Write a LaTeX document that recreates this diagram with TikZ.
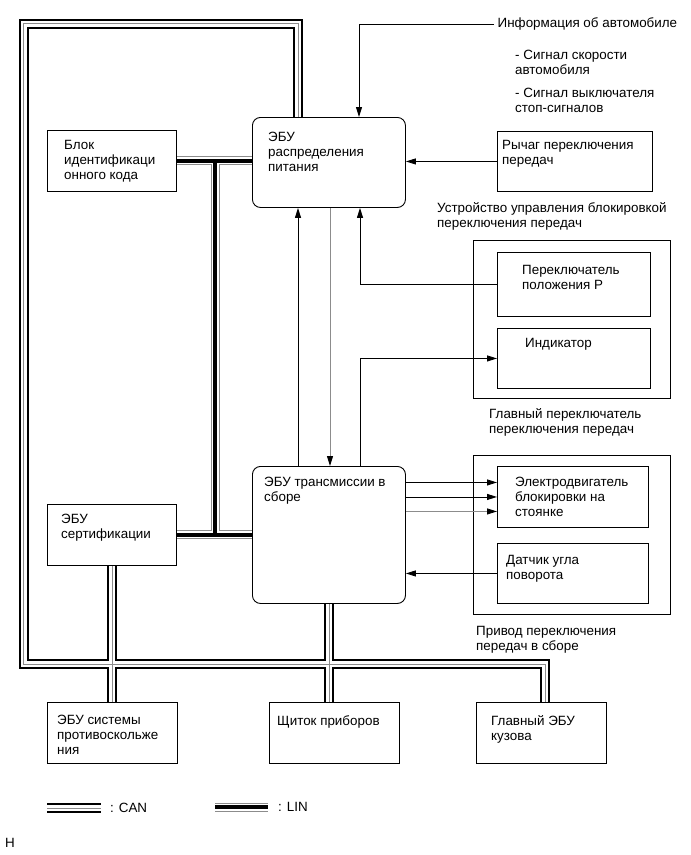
\documentclass[tikz,border=0pt]{standalone}
\usepackage{fontspec}
\setmainfont{Liberation Sans}
\usetikzlibrary{positioning,arrows.meta,backgrounds}

\begin{document}
\begin{tikzpicture}[
  x=1pt, y=-1pt,
  font=\fontsize{13.4}{15.2}\selectfont,
  every node/.style={inner sep=0pt},
  blk/.style={draw, line width=0.9pt, fill=white, anchor=north west},
  ecu/.style={blk, rounded corners=8pt},
  lbl/.style={align=left, anchor=north west},
  txt/.style={align=left, anchor=north west},
  arr/.style={line width=0.9pt, -{Triangle[length=10pt,width=6pt]}},
  garr/.style={arr, black!45, -{Triangle[length=10pt,width=6pt,color=black]}}
]
\useasboundingbox (0,0) rectangle (691,855);

% units
\node[blk, minimum width=129, minimum height=61,
  label={[lbl,xshift=17,yshift=-10]north west:Блок\\идентификаци\\онного кода}] (ident) at (47,130) {};
\node[ecu, minimum width=153, minimum height=90,
  label={[lbl,xshift=16,yshift=-15]north west:ЭБУ\\распределения\\питания}] (pdu) at (252,117) {};
\node[blk, minimum width=155, minimum height=60,
  label={[lbl,xshift=5,yshift=-9]north west:Рычаг переключения\\передач}] (lever) at (497,131) {};

\node[blk, minimum width=197, minimum height=158] (mainsw) at (473,240) {};
\node[blk, minimum width=153, minimum height=64,
  label={[lbl,xshift=25,yshift=-13]north west:Переключатель\\положения P}] (pswitch) at (497,252) {};
\node[blk, minimum width=153, minimum height=60,
  label={[lbl,xshift=28,yshift=-10]north west:Индикатор}] (indic) at (497,328) {};

\node[ecu, minimum width=153, minimum height=137,
  label={[lbl,xshift=12,yshift=-11]north west:ЭБУ трансмиссии в\\сборе}] (trans) at (252,466) {};
\node[blk, minimum width=129, minimum height=61,
  label={[lbl,xshift=14,yshift=-10]north west:ЭБУ\\сертификации}] (cert) at (47,504) {};

\node[blk, minimum width=197, minimum height=159] (act) at (473,455) {};
\node[blk, minimum width=151, minimum height=61,
  label={[lbl,xshift=18,yshift=-11]north west:Электродвигатель\\блокировки на\\стоянке}] (motor) at (497,466) {};
\node[blk, minimum width=151, minimum height=60,
  label={[lbl,xshift=9,yshift=-12]north west:Датчик угла\\поворота}] (sensor) at (497,543) {};

\node[blk, minimum width=130, minimum height=61,
  label={[lbl,xshift=10,yshift=-13]north west:ЭБУ системы\\противоскольже\\ния}] (abs) at (47,702) {};
\node[blk, minimum width=130, minimum height=61,
  label={[lbl,xshift=8,yshift=-13]north west:Щиток приборов}] (gauge) at (269,702) {};
\node[blk, minimum width=130, minimum height=61,
  label={[lbl,xshift=15,yshift=-13]north west:Главный ЭБУ\\кузова}] (body) at (476,702) {};

% captions
\node[anchor=west, inner xsep=3.5pt] (info) at (494,24) {Информация об автомобиле};
\node[txt] (sig1) at (515,50) {- Сигнал скорости\\автомобиля};
\node[txt] (sig2) at (515,88) {- Сигнал выключателя\\стоп-сигналов};
\node[txt, below=10pt of lever.south west, anchor=north west, xshift=-60] (lockcap)
  {Устройство управления блокировкой\\переключения передач};
\node[txt, below=9pt of mainsw.south west, anchor=north west, xshift=16] (swcap)
  {Главный переключатель\\переключения передач};
\node[txt, below=11pt of act.south west, anchor=north west, xshift=3] (actcap)
  {Привод переключения\\передач в сборе};

\node[anchor=west] (cantxt) at (110,808) {: CAN};
\node[anchor=west] (lintxt) at (278,807) {: LIN};
\node[anchor=west] (mark) at (5,843) {Н};

\coordinate (cantl) at (23.5,23.5);
\coordinate (canbl) at (23.5,664);
\coordinate (canbr) at (545,664);
\coordinate (linx) at (215,0);

\begin{scope}[on background layer]
% CAN
\foreach \w/\c in {10/black, 6/white, 0.8/black!45} {
  \draw[line width=\w pt, \c] ([xshift=46]pdu.north west) |- (cantl) -- (canbl) -- (canbr) -- (body.north -| canbr);
  \draw[line width=\w pt, \c] (cert.south) -- (cert.south |- abs.north);
  \draw[line width=\w pt, \c] (trans.south) -- (trans.south |- gauge.north);
  \draw[line width=\w pt, \c] (47,808) -- (101,808);
}
% LIN
\foreach \w/\c in {9/black!45, 7/white, 4/black} {
  \draw[line width=\w pt, \c] (ident.east) -- (ident.east -| pdu.west);
  \draw[line width=\w pt, \c] (cert.east) -- (cert.east -| trans.west);
  \draw[line width=\w pt, \c] (ident.east -| linx) -- (cert.east -| linx);
  \draw[line width=\w pt, \c] (215,807) -- (268,807);
}
\end{scope}

\draw[arr] (info.west) -| ([xshift=107]pdu.north west);
\draw[arr] (lever.west) -- (lever.west -| pdu.east);
\draw[arr] ([xshift=46]trans.north west) -- ([xshift=46]pdu.south west);
\draw[garr] ([xshift=78]pdu.south west) -- ([xshift=78]trans.north west);
\draw[arr] (pswitch.west) -| ([xshift=108]pdu.south west);
\draw[arr] ([xshift=108]trans.north west) |- (indic.west);

\draw[arr] ([yshift=14.5]motor.west -| trans.east) -- ([yshift=14.5]motor.west);
\draw[arr] (motor.west -| trans.east) -- (motor.west);
\draw[garr] ([yshift=-14.5]motor.west -| trans.east) -- ([yshift=-14.5]motor.west);
\draw[arr] (sensor.west) -- (sensor.west -| trans.east);
\end{tikzpicture}
\end{document}
